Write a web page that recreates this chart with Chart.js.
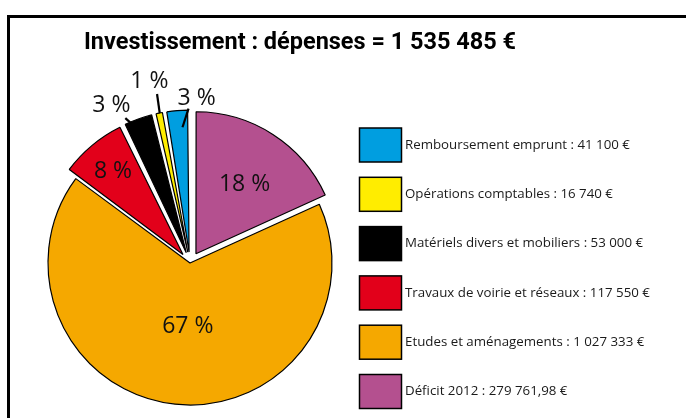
<!DOCTYPE html>
<html><head><meta charset="utf-8">
<script src="https://cdn.jsdelivr.net/npm/chart.js@4"></script>
<style>
html,body{margin:0;padding:0;background:#fff;}
#wrap{position:relative;width:686px;height:418px;overflow:hidden;}
#frame{position:absolute;left:7px;top:15px;width:700px;height:430px;border-top:3px solid #000;border-left:3px solid #000;}
canvas{position:absolute;left:0;top:0;}
</style></head><body>
<div id="wrap"><div id="frame"></div><canvas id="c" width="686" height="418"></canvas></div>
<script>
// ---- data ----
const titlePrefix = 'Investissement : dépenses = ';
const categories = ['Déficit 2012', 'Etudes et aménagements', 'Travaux de voirie et réseaux', 'Matériels divers et mobiliers', 'Opérations comptables', 'Remboursement emprunt'];
const amounts = [279761.98, 1027333, 117550, 53000, 16740, 41100];
const colors = ['#B4508F', '#F5A800', '#E2001A', '#000000', '#FFED00', '#009EE0'];

// ---- styling / placement (not data) ----
const R = 142;
const sliceOffset = [44, 0, 44, 44, 44, 44]; // chart.js draws offset/4
const labelPlace = [
  {r: 0.60, da: 2},
  {r: 0.44, da: -4},
  {r: 0.77, da: 0},
  {r: 1.17, da: -7, lead: [-4.6, 1.04, -3.3, 0.99]},
  {r: 1.24, da: -1, lead: [0.6, 1.135, 0.2, 1.0]},
  {r: 1.09, da: 7.6, lead: [4.6, 1.01, 1.8, 0.88]}
];

function fmtEuro(v) {
  const neg = v < 0; v = Math.abs(v);
  let cents = Math.round(v * 100);
  let ip = Math.floor(cents / 100), dp = cents % 100;
  let s = String(ip).replace(/\B(?=(\d{3})+(?!\d))/g, ' ');
  if (dp) s += ',' + String(dp).padStart(2, '0');
  return (neg ? '-' : '') + s + ' €';
}
const total = amounts.reduce((a, b) => a + b, 0);
const titleText = titlePrefix + fmtEuro(Math.round(total));
const pctLabels = amounts.map(v => Math.round(v / total * 100) + ' %');

const deg = Math.PI / 180;

const fixRadius = {
  id: 'fixRadius',
  beforeDatasetsDraw(chart) {
    chart.getDatasetMeta(0).data.forEach((arc, i) => {
      const circ = arc.endAngle - arc.startAngle;
      const fix = 1 - Math.sin(Math.min(Math.PI, circ));
      arc.outerRadius = R - (sliceOffset[i] / 4) * fix;
    });
  }
};

const sliceLabels = {
  id: 'sliceLabels',
  afterDatasetsDraw(chart) {
    const ctx = chart.ctx;
    ctx.save();
    ctx.font = '23px "Open Sans", "Noto Sans", sans-serif';
    ctx.textAlign = 'center';
    ctx.textBaseline = 'middle';
    chart.getDatasetMeta(0).data.forEach((arc, i) => {
      const mid = (arc.startAngle + arc.endAngle) / 2;
      const o = sliceOffset[i] / 4;
      const ax = arc.x + Math.cos(mid) * o, ay = arc.y + Math.sin(mid) * o;
      const pl = labelPlace[i];
      const a = mid + pl.da * deg;
      ctx.fillStyle = '#111';
      ctx.fillText(pctLabels[i], ax + Math.cos(a) * R * pl.r, ay + Math.sin(a) * R * pl.r + 1);
      if (pl.lead) {
        const [d1, r1, d2, r2] = pl.lead;
        ctx.beginPath();
        ctx.moveTo(ax + Math.cos(mid + d1 * deg) * R * r1, ay + Math.sin(mid + d1 * deg) * R * r1);
        ctx.lineTo(ax + Math.cos(mid + d2 * deg) * R * r2, ay + Math.sin(mid + d2 * deg) * R * r2);
        ctx.strokeStyle = '#000';
        ctx.lineWidth = 2.2;
        ctx.stroke();
      }
    });
    ctx.restore();
  }
};

const titleAndLegend = {
  id: 'titleAndLegend',
  afterDraw(chart) {
    const ctx = chart.ctx;
    ctx.save();
    ctx.fillStyle = '#000';
    ctx.font = 'bold 24px Roboto, "Liberation Sans", sans-serif';
    ctx.textAlign = 'left';
    ctx.textBaseline = 'alphabetic';
    const tw = ctx.measureText(titleText).width;
    const targetW = 432;
    ctx.save();
    ctx.translate(300 - targetW / 2, 49);
    ctx.scale(targetW / tw, 1);
    ctx.fillText(titleText, 0, 0);
    ctx.restore();
    // legend (reverse order)
    ctx.font = '13.3px "Open Sans", "Noto Sans", sans-serif';
    ctx.textAlign = 'left';
    ctx.textBaseline = 'middle';
    const n = categories.length;
    for (let k = 0; k < n; k++) {
      const i = n - 1 - k;
      const y = 128 + k * 49.3;
      ctx.fillStyle = colors[i];
      ctx.fillRect(359.5, y, 42, 34);
      ctx.strokeStyle = '#000';
      ctx.lineWidth = 1.5;
      ctx.strokeRect(359.5, y, 42, 34);
      ctx.fillStyle = '#1a1a1a';
      ctx.fillText(categories[i] + ' : ' + fmtEuro(amounts[i]), 405, y + 17);
    }
    ctx.restore();
  }
};

new Chart(document.getElementById('c'), {
  type: 'pie',
  data: {
    labels: categories,
    datasets: [{
      data: amounts,
      backgroundColor: colors,
      borderColor: '#000',
      borderWidth: 1.2,
      offset: sliceOffset,
      hoverOffset: 0
    }]
  },
  options: {
    responsive: false,
    animation: false,
    devicePixelRatio: 1,
    radius: R,
    layout: {padding: {left: 30, right: 336, top: 110, bottom: 2}},
    plugins: {legend: {display: false}, tooltip: {enabled: false}, title: {display: false}},
    events: []
  },
  plugins: [fixRadius, sliceLabels, titleAndLegend]
});
</script>
</body></html>
